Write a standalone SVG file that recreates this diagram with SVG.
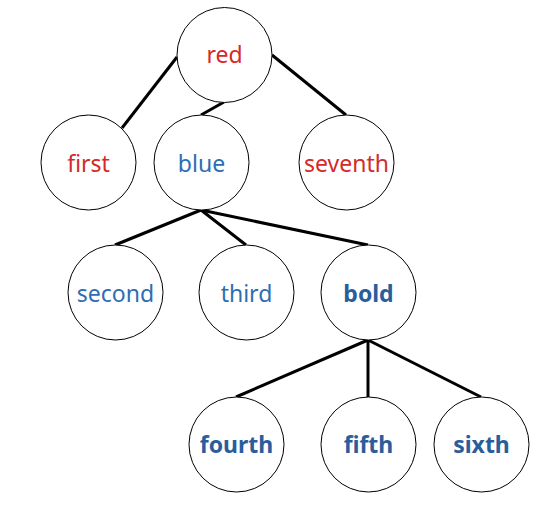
<svg xmlns="http://www.w3.org/2000/svg" width="552" height="512" viewBox="0 0 552 512">
<style>
.n circle{fill:#fff;stroke:#000;stroke-width:1}
text{font-family:"Noto Sans","Open Sans",sans-serif;font-size:23px;text-anchor:middle}
.r{fill:#d42a2a}
.b{fill:#2e6db4}
.bb{fill:#295d9c;font-weight:bold}
.e line{stroke:#000;stroke-width:3}
</style>
<rect width="552" height="512" fill="#fff"/>
<g id="connectors" class="e">
<line x1="177" y1="57" x2="122" y2="128"/>
<line x1="224" y1="102" x2="201" y2="115"/>
<line x1="272" y1="55" x2="346" y2="115"/>
<line x1="201" y1="210" x2="115" y2="245"/>
<line x1="201" y1="210" x2="246" y2="245"/>
<line x1="201" y1="210" x2="368" y2="245"/>
<line x1="368" y1="340" x2="236" y2="397"/>
<line x1="368" y1="340" x2="368" y2="397"/>
<line x1="368" y1="340" x2="481" y2="397"/>
</g>
<g id="red" class="n"><circle cx="224.5" cy="55" r="47.5"/><text class="r" x="224.5" y="63">red</text></g>
<g id="first" class="n"><circle cx="88.5" cy="162.5" r="47.5"/><text class="r" x="88.5" y="171.5">first</text></g>
<g id="blue" class="n"><circle cx="201.5" cy="162.5" r="47.5"/><text class="b" x="201.5" y="171.5">blue</text></g>
<g id="seventh" class="n"><circle cx="346.5" cy="162.5" r="47.5"/><text class="r" x="346.5" y="171.5">seventh</text></g>
<g id="second" class="n"><circle cx="115.5" cy="292.5" r="47.5"/><text class="b" x="115.5" y="301.5">second</text></g>
<g id="third" class="n"><circle cx="246.5" cy="292.5" r="47.5"/><text class="b" x="246.5" y="301.5">third</text></g>
<g id="bold" class="n"><circle cx="368.5" cy="292.5" r="47.5"/><text class="bb" x="368.5" y="301.5">bold</text></g>
<g id="fourth" class="n"><circle cx="236.5" cy="444.5" r="47.5"/><text class="bb" x="236.5" y="453">fourth</text></g>
<g id="fifth" class="n"><circle cx="368.5" cy="444.5" r="47.5"/><text class="bb" x="368.5" y="453">fifth</text></g>
<g id="sixth" class="n"><circle cx="481.5" cy="444.5" r="47.5"/><text class="bb" x="481.5" y="453">sixth</text></g>
</svg>
